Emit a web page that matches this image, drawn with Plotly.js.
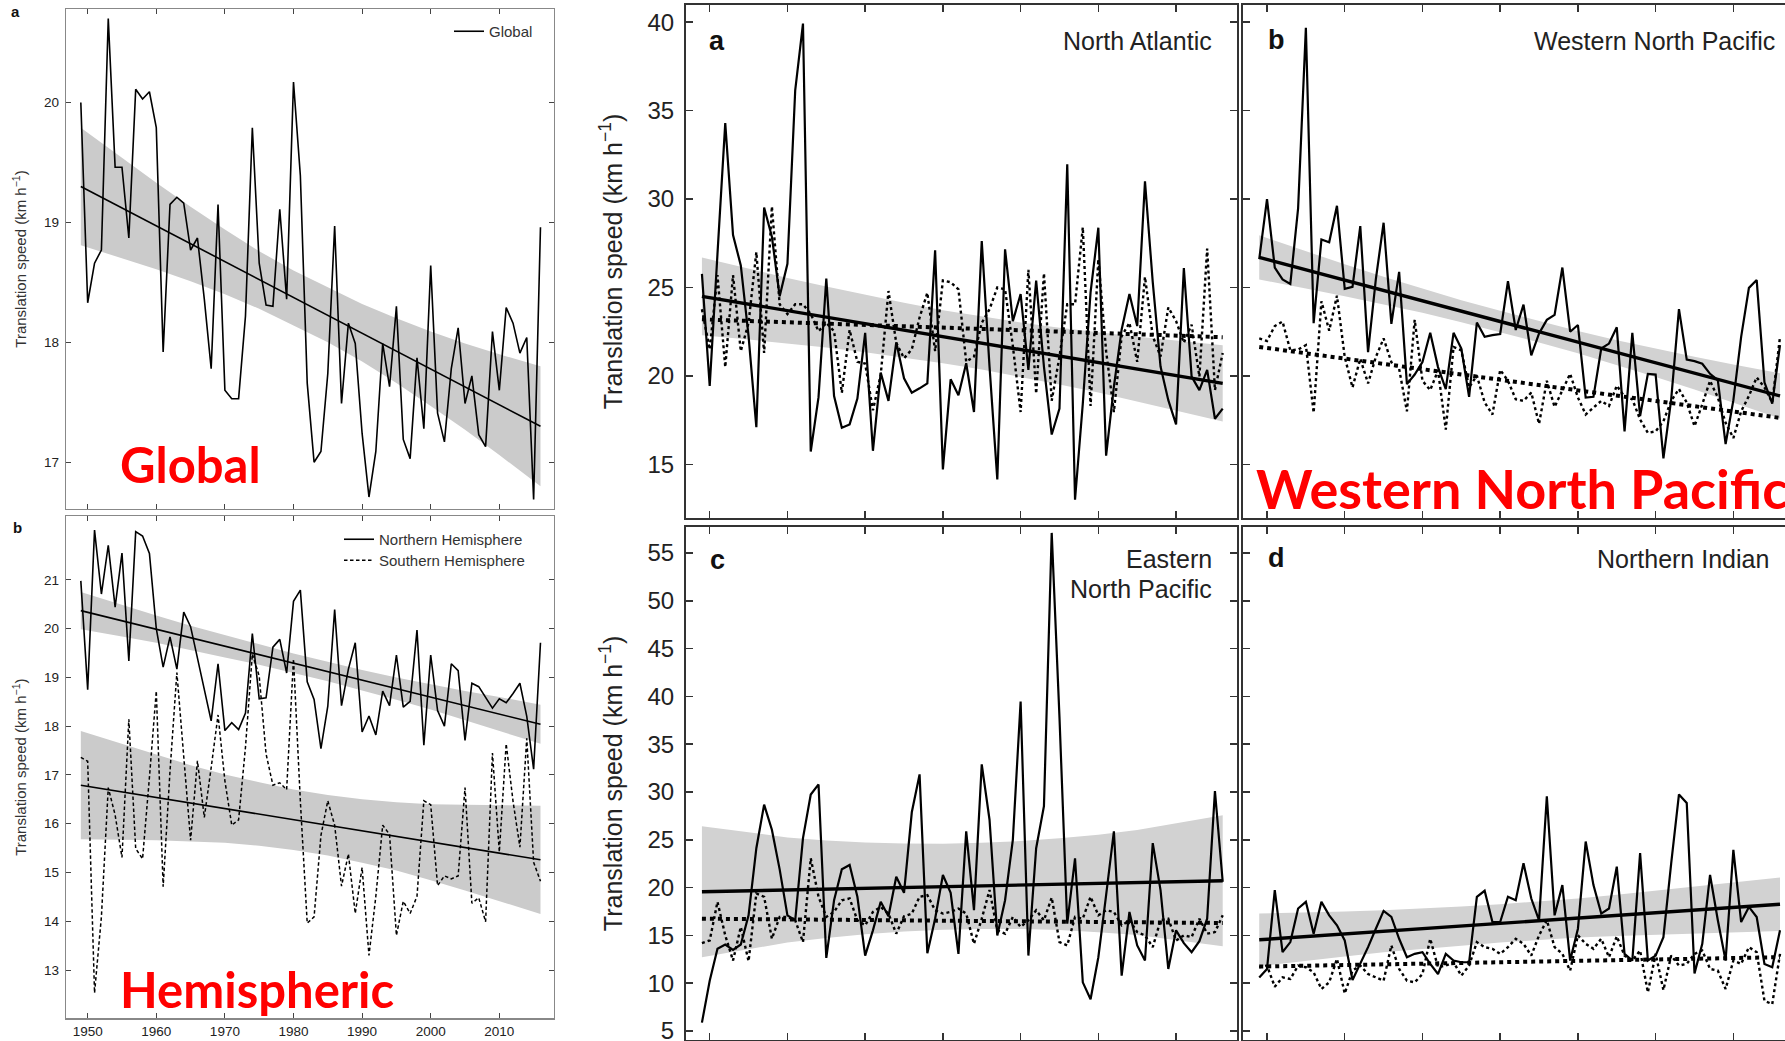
<!DOCTYPE html>
<html><head><meta charset="utf-8">
<script src="https://cdn.plot.ly/plotly-3.0.1.min.js"></script>
<style>html,body{margin:0;padding:0;overflow:hidden;background:#fff;} #chart{width:1800px;height:1041px;}</style>
</head><body><div id="chart"></div>
<script>
// ---------------- DATA ----------------
const years = [1949,1950,1951,1952,1953,1954,1955,1956,1957,1958,
  1959,1960,1961,1962,1963,1964,1965,1966,1967,1968,
  1969,1970,1971,1972,1973,1974,1975,1976,1977,1978,
  1979,1980,1981,1982,1983,1984,1985,1986,1987,1988,
  1989,1990,1991,1992,1993,1994,1995,1996,1997,1998,
  1999,2000,2001,2002,2003,2004,2005,2006,2007,2008,
  2009,2010,2011,2012,2013,2014,2015,2016];
const xTicks = [1950,1960,1970,1980,1990,2000,2010];
const trendYears = [1949, 2016];
const bandYears = [1949,1955,1960,1965,1970,1975,1980,1985,1990,1995,2000,2005,2010,2016];

// Global
const globalSpeed = [20.00,18.33,18.66,18.77,20.70,19.46,19.46,18.87,20.11,20.03,
  20.09,19.79,17.92,19.15,19.21,19.16,18.77,18.87,18.36,17.78,
  19.15,17.60,17.53,17.53,18.22,19.79,18.66,18.31,18.30,19.11,
  18.36,20.17,19.39,17.66,17.00,17.09,17.74,18.97,17.49,18.16,
  17.99,17.24,16.71,17.09,17.99,17.63,18.30,17.19,17.03,17.87,
  17.28,18.64,17.41,17.17,17.78,18.12,17.49,17.72,17.23,17.13,
  18.09,17.60,18.29,18.16,17.91,18.04,16.69,18.96];
const globalTrend = [19.30, 17.30];
const globalUpper = [19.79,19.54,19.33,19.13,18.94,18.76,18.60,18.46,18.32,18.20,18.09,17.99,17.90,17.80];
const globalLower = [18.81,18.70,18.61,18.51,18.40,18.28,18.14,18.00,17.84,17.66,17.47,17.27,17.06,16.80];

// Hemispheric
const nhSpeed = [20.98,18.75,22.02,20.71,21.71,20.44,21.55,19.34,21.99,21.90,
  21.54,20.00,19.21,19.83,19.17,20.34,20.04,19.38,18.75,18.11,
  19.28,17.91,18.07,17.93,18.27,19.90,18.56,18.58,19.62,19.78,
  19.09,20.56,20.79,18.91,18.55,17.54,18.41,20.39,18.42,19.17,
  19.71,17.88,18.21,17.82,18.72,18.42,19.46,18.39,18.51,19.97,
  17.61,19.46,18.32,18.00,19.28,19.14,17.71,18.88,18.81,18.58,
  18.37,18.56,18.48,18.67,18.88,18.20,17.12,19.71];
const shSpeed = [17.36,17.28,12.53,14.09,16.74,16.18,15.31,18.14,15.49,15.28,
  16.95,18.72,14.71,17.08,19.10,17.33,15.66,17.29,16.13,17.15,
  18.23,16.88,15.97,16.08,17.57,19.48,19.03,17.43,16.79,16.84,
  16.70,19.38,16.46,13.96,14.09,15.76,16.47,15.97,14.72,15.38,
  14.16,15.10,13.30,14.51,15.97,15.78,13.71,14.41,14.16,14.51,
  16.47,16.39,14.73,14.93,14.87,14.93,16.74,14.37,14.48,13.99,
  17.45,15.42,17.64,16.46,15.52,17.75,15.21,14.82];
const nhTrend = [20.37, 18.04];
const shTrend = [16.79, 15.26];
const nhUpper = [20.75,20.48,20.27,20.06,19.87,19.68,19.49,19.32,19.15,19.00,18.86,18.72,18.60,18.44];
const nhLower = [19.99,19.84,19.71,19.56,19.41,19.26,19.09,18.92,18.73,18.54,18.34,18.12,17.90,17.64];
const shUpper = [17.90,17.63,17.42,17.20,17.01,16.85,16.70,16.59,16.50,16.44,16.40,16.39,16.38,16.37];
const shLower = [15.68,15.67,15.66,15.64,15.61,15.55,15.46,15.35,15.20,15.04,14.84,14.63,14.42,14.15];

// (a) North Atlantic
const naSolid = [25.77,19.43,26.90,34.29,27.96,26.25,22.25,17.10,29.52,27.87,
  24.50,26.34,36.15,39.92,15.73,18.80,25.50,18.86,17.07,17.26,
  18.72,22.44,15.77,20.19,18.59,21.90,19.87,19.05,19.30,19.58,
  27.10,14.72,19.81,18.91,20.72,17.96,27.62,20.53,14.15,27.16,
  23.10,24.63,20.34,25.39,20.53,16.69,18.15,31.96,13.00,18.44,
  24.72,28.38,15.49,19.39,22.63,24.63,22.82,31.00,25.30,20.53,
  18.63,17.26,26.10,19.96,19.20,20.34,17.58,18.15];
const naDotted = [23.77,21.50,25.70,20.50,25.70,21.40,23.00,27.00,21.30,29.58,
  24.05,23.50,24.05,24.05,23.50,22.53,23.00,22.53,19.05,22.60,
  20.80,20.70,18.06,20.06,24.80,21.87,21.00,21.50,23.30,24.70,
  21.40,25.40,25.30,24.90,20.80,21.10,23.00,23.77,25.00,24.90,
  21.70,17.96,26.00,19.00,25.80,18.60,21.10,24.05,24.05,28.40,
  18.30,26.60,21.40,17.96,22.25,23.00,20.80,25.60,22.25,21.10,
  23.87,23.10,21.87,22.90,19.96,27.20,19.20,21.30];
const naTrendSolid = [24.50, 19.58];
const naTrendDotted = [23.20, 22.19];
const naUpper = [26.70,26.06,25.54,25.05,24.58,24.14,23.72,23.36,23.02,22.72,22.46,22.22,22.00,21.73];
const naLower = [22.30,22.06,21.84,21.61,21.34,21.04,20.72,20.36,19.96,19.52,19.06,18.56,18.04,17.43];

// (b) Western North Pacific
const wnpSolid = [26.60,30.00,26.13,25.46,25.20,29.47,39.68,22.98,27.71,27.56,
  29.62,24.92,25.04,28.47,21.35,25.46,28.66,22.94,25.88,19.54,
  20.08,20.78,22.44,20.50,19.26,22.44,21.55,18.82,23.02,22.21,
  22.31,22.37,25.36,22.60,24.03,21.16,22.40,23.17,23.45,26.13,
  22.50,22.88,18.78,18.82,21.55,21.83,22.75,16.87,22.44,17.73,
  20.12,20.08,15.34,18.68,23.78,20.92,20.84,20.69,20.12,19.77,
  16.15,18.63,22.21,24.98,25.42,19.64,18.44,21.74];
const wnpDotted = [22.12,21.98,22.82,23.07,21.45,21.49,21.74,17.92,24.22,22.56,
  24.54,21.07,19.35,20.97,19.58,21.07,22.12,20.78,20.40,18.00,
  23.17,19.73,19.20,20.31,16.97,21.64,21.45,19.35,20.02,18.50,
  17.82,20.34,19.73,18.68,18.59,19.06,17.29,19.73,18.25,19.16,
  20.12,18.78,17.82,18.21,18.59,18.30,19.45,18.82,18.68,17.54,
  16.78,16.87,17.44,18.59,19.26,18.50,17.16,18.40,19.73,18.78,
  17.35,16.49,18.00,18.87,19.92,19.35,18.50,22.21];
const wnpTrendSolid = [26.70, 18.87];
const wnpTrendDotted = [21.64, 17.63];
const wnpUpper = [27.95,27.05,26.31,25.61,24.93,24.28,23.68,23.09,22.54,22.02,21.54,21.09,20.65,20.15];
const wnpLower = [25.45,24.95,24.51,24.05,23.57,23.04,22.48,21.89,21.28,20.62,19.94,19.23,18.49,17.59];

// (c) Eastern North Pacific
const enpSolid = [5.88,10.26,13.60,14.05,13.49,14.05,17.10,24.12,28.68,26.05,
  21.91,17.10,16.58,25.18,29.74,30.79,12.65,18.68,21.91,22.37,
  19.04,12.89,15.53,18.51,17.00,21.14,19.46,27.88,31.84,13.14,
  16.75,21.32,19.46,13.07,25.88,17.63,32.89,27.10,15.00,18.68,
  25.00,39.46,12.89,24.12,28.51,57.10,37.81,16.23,23.07,10.09,
  8.33,12.72,19.21,25.88,10.79,17.46,13.95,12.37,24.65,19.74,
  11.49,15.53,14.19,13.25,14.40,16.75,30.09,20.61];
const enpDotted = [14.19,14.47,18.51,15.00,12.37,15.88,12.30,19.39,19.04,14.65,
  16.93,16.93,16.58,14.30,23.07,19.04,16.93,17.46,18.68,18.86,
  16.58,16.05,17.46,17.98,17.28,15.18,17.00,17.28,19.04,19.21,
  17.63,17.28,17.46,17.81,17.28,14.12,16.75,19.74,15.53,15.18,
  16.93,15.88,16.58,17.63,16.58,18.96,14.30,13.95,16.93,16.75,
  19.04,17.10,17.63,17.46,16.05,16.58,15.35,15.00,13.77,16.58,
  16.75,14.47,15.00,14.82,16.75,15.18,15.35,17.10];
const enpTrendSolid = [19.56, 20.72];
const enpTrendDotted = [16.75, 16.30];
const enpUpper = [26.41,25.76,25.25,24.94,24.72,24.61,24.60,24.68,24.87,25.16,25.54,26.03,26.72,27.57];
const enpLower = [12.71,13.56,14.25,14.74,15.12,15.41,15.60,15.68,15.67,15.56,15.34,15.03,14.52,13.87];

// (d) Northern Indian
const niSolid = [10.61,11.49,19.74,13.25,14.30,17.81,18.51,15.18,18.51,17.10,
  16.05,14.47,10.33,12.02,13.77,15.70,17.56,16.93,14.65,12.72,
  13.07,13.25,12.02,10.96,13.07,12.37,12.19,12.19,19.04,19.67,
  16.40,16.40,19.04,18.68,22.54,18.86,16.58,29.56,17.10,20.26,
  12.37,15.70,24.82,20.26,17.28,17.81,22.19,13.07,12.37,23.60,
  12.37,12.89,14.82,22.54,29.74,28.86,11.03,14.12,21.32,16.58,
  12.37,23.95,16.40,17.98,16.93,12.02,11.67,15.53];
const niDotted = [11.67,11.84,9.63,10.61,10.44,11.84,11.67,11.14,9.39,10.09,
  12.54,8.93,11.32,11.84,10.96,10.61,10.26,13.95,11.49,10.26,
  10.09,10.96,14.65,11.67,11.84,12.19,10.79,11.84,14.30,13.77,
  13.60,13.07,13.77,14.65,14.12,12.89,15.00,16.58,13.77,13.07,
  11.32,15.00,14.12,13.60,14.65,12.72,14.90,12.89,12.37,13.42,
  9.04,13.07,9.28,12.89,11.84,12.02,13.07,13.42,11.49,11.32,
  9.39,12.37,12.02,13.77,13.25,8.16,7.81,13.07];
const niTrendSolid = [14.54, 18.26];
const niTrendDotted = [11.74, 12.72];
const niUpper = [17.29,17.37,17.50,17.63,17.81,18.03,18.26,18.54,18.87,19.24,19.67,20.10,20.53,21.06];
const niLower = [11.79,12.37,12.80,13.23,13.61,13.93,14.26,14.54,14.77,14.94,15.07,15.20,15.33,15.46];

const leftTicksGlobal = [17,18,19,20];
const leftTicksHemi = [13,14,15,16,17,18,19,20,21];
const ticksA = [15,20,25,30,35,40];
const ticksC = [5,10,15,20,25,30,35,40,45,50,55];
const yTitle = 'Translation speed (km h<sup>−1</sup>)';

// ---------------- LAYOUT HELPERS ----------------
const W = 1800, H = 1041;
const dx = (l, r) => [l / W, r / W];
const dy = (t, b) => [1 - b / H, 1 - t / H];
const px = v => v / W;
const py = v => 1 - v / H;

const FONT = 'Liberation Sans, Arial, Helvetica, sans-serif';
const BAND_L = '#cbcbcb';
const BAND_R = '#d2d2d2';

function bandTrace(xa, ya, up, lo, color) {
  return {x: bandYears.concat(bandYears.slice().reverse()),
          y: up.concat(lo.slice().reverse()),
          xaxis: xa, yaxis: ya, type: 'scatter', mode: 'lines', fill: 'toself',
          fillcolor: color, line: {width: 0, color: color}, showlegend: false, hoverinfo: 'skip'};
}
function lineTrace(xa, ya, xs, ys, width, dash, name, legend) {
  const t = {x: xs, y: ys, xaxis: xa, yaxis: ya, type: 'scatter', mode: 'lines',
             line: {color: '#000', width: width, dash: dash || 'solid'}, showlegend: false, name: name || ''};
  if (legend) { t.showlegend = true; t.legend = legend; }
  return t;
}

const data = [
  // Global
  bandTrace('x', 'y', globalUpper, globalLower, BAND_L),
  lineTrace('x', 'y', trendYears, globalTrend, 1.6),
  lineTrace('x', 'y', years, globalSpeed, 1.6, 'solid', 'Global', 'legend'),
  // Hemispheric
  bandTrace('x2', 'y2', nhUpper, nhLower, BAND_L),
  bandTrace('x2', 'y2', shUpper, shLower, BAND_L),
  lineTrace('x2', 'y2', trendYears, nhTrend, 1.6),
  lineTrace('x2', 'y2', trendYears, shTrend, 1.6),
  lineTrace('x2', 'y2', years, nhSpeed, 1.6, 'solid', 'Northern Hemisphere', 'legend2'),
  lineTrace('x2', 'y2', years, shSpeed, 1.5, '3.5px,2.5px', 'Southern Hemisphere', 'legend3'),
  // a
  bandTrace('x3', 'y3', naUpper, naLower, BAND_R),
  lineTrace('x3', 'y3', years, naDotted, 2.4, 'dot'),
  lineTrace('x3', 'y3', years, naSolid, 2.2),
  lineTrace('x3', 'y3', trendYears, naTrendDotted, 4, 'dot'),
  lineTrace('x3', 'y3', trendYears, naTrendSolid, 3.4),
  // b
  bandTrace('x4', 'y4', wnpUpper, wnpLower, BAND_R),
  lineTrace('x4', 'y4', years, wnpDotted, 2.4, 'dot'),
  lineTrace('x4', 'y4', years, wnpSolid, 2.2),
  lineTrace('x4', 'y4', trendYears, wnpTrendDotted, 4, 'dot'),
  lineTrace('x4', 'y4', trendYears, wnpTrendSolid, 3.4),
  // c
  bandTrace('x5', 'y5', enpUpper, enpLower, BAND_R),
  lineTrace('x5', 'y5', years, enpDotted, 2.4, 'dot'),
  lineTrace('x5', 'y5', years, enpSolid, 2.2),
  lineTrace('x5', 'y5', trendYears, enpTrendDotted, 4, 'dot'),
  lineTrace('x5', 'y5', trendYears, enpTrendSolid, 3.4),
  // d
  bandTrace('x6', 'y6', niUpper, niLower, BAND_R),
  lineTrace('x6', 'y6', years, niDotted, 2.4, 'dot'),
  lineTrace('x6', 'y6', years, niSolid, 2.2),
  lineTrace('x6', 'y6', trendYears, niTrendDotted, 4, 'dot'),
  lineTrace('x6', 'y6', trendYears, niTrendSolid, 3.4)
];

function leftX(anchor, labels) {
  return {domain: dx(66, 554), range: [1946.84, 2017.97], anchor: anchor, tickvals: xTicks,
          ticks: 'inside', ticklen: 5, tickwidth: 1, tickcolor: '#444', showline: true, linecolor: '#888',
          linewidth: 1.2, mirror: 'ticks', showgrid: false, zeroline: false, showticklabels: labels,
          tickfont: {family: FONT, size: 13.5, color: '#222'}};
}
function leftY(anchor, domain, range, tickvals) {
  return {domain: domain, range: range, anchor: anchor, tickvals: tickvals,
          ticks: 'inside', ticklen: 5, tickwidth: 1, tickcolor: '#444', showline: true, linecolor: '#888',
          linewidth: 1.2, mirror: 'ticks', showgrid: false, zeroline: false, ticklabelstandoff: 3,
          tickfont: {family: FONT, size: 13.5, color: '#222'},
          title: {text: yTitle, standoff: 13, font: {family: FONT, size: 15, color: '#333'}}};
}
function rightX(anchor, domain) {
  return {domain: domain, range: [1946.95, 2017.8], anchor: anchor, tickvals: xTicks,
          ticks: 'inside', ticklen: 7, tickwidth: 1.5, tickcolor: '#333', showline: true, linecolor: '#333',
          linewidth: 2, mirror: 'ticks', showgrid: false, zeroline: false, showticklabels: false};
}
function rightY(anchor, domain, range, tickvals, labels) {
  const a = {domain: domain, range: range, anchor: anchor, tickvals: tickvals,
          ticks: 'inside', ticklen: 7, tickwidth: 1.5, tickcolor: '#333', showline: true, linecolor: '#333',
          linewidth: 2, mirror: 'ticks', showgrid: false, zeroline: false, showticklabels: labels,
          ticklabeloverflow: 'allow',
          ticklabelstandoff: 5, tickfont: {family: FONT, size: 24, color: '#222'}};
  if (labels) a.title = {text: yTitle, standoff: 18, font: {family: FONT, size: 25, color: '#222'}};
  return a;
}

const topY = dy(5, 518), botY = dy(526.7, 1040);
const colA = dx(686, 1236.7), colB = dx(1243.3, 1794);

function ann(text, x, y, opts) {
  return Object.assign({text: text, x: px(x), y: py(y), xref: 'paper', yref: 'paper', showarrow: false,
    xanchor: 'left', yanchor: 'middle', font: {family: FONT, size: 25, color: '#222'}}, opts || {});
}
const bold = (s) => ({family: FONT, size: s, color: '#111', weight: 'bold'});
const red = {family: 'Lato, "Noto Sans", sans-serif', size: 49, color: '#ff0000', weight: 'bold'};
const legendStyle = (x, y) => ({x: px(x), y: py(y), xanchor: 'left', yanchor: 'top', bgcolor: 'rgba(0,0,0,0)',
  borderwidth: 0, font: {family: FONT, size: 15, color: '#333'}, itemwidth: 30, tracegroupgap: 0});

const layout = {
  width: W, height: H, margin: {l: 0, r: 0, t: 0, b: 0}, paper_bgcolor: '#fff', plot_bgcolor: '#fff',
  showlegend: true, hovermode: false,
  xaxis: leftX('y', false),
  yaxis: leftY('x', dy(9, 509), [16.61, 20.78], leftTicksGlobal),
  xaxis2: leftX('y2', true),
  yaxis2: leftY('x2', dy(516, 1018.3), [12.01, 22.31], leftTicksHemi),
  xaxis3: rightX('y3', colA),
  yaxis3: rightY('x3', topY, [11.97, 40.97], ticksA, true),
  xaxis4: rightX('y4', colB),
  yaxis4: rightY('x4', topY, [11.97, 40.97], ticksA, false),
  xaxis5: rightX('y5', colA),
  yaxis5: rightY('x5', botY, [4.06, 57.75], ticksC, true),
  xaxis6: rightX('y6', colB),
  yaxis6: rightY('x6', botY, [4.06, 57.75], ticksC, false),
  legend: legendStyle(449, 15),
  legend2: legendStyle(339, 523),
  legend3: legendStyle(339, 544),
  annotations: [
    ann('a', 15, 12, {xanchor: 'center', font: bold(15)}),
    ann('b', 17, 527, {xanchor: 'center', font: bold(15)}),
    ann('a', 717, 41, {xanchor: 'center', font: bold(27)}),
    ann('b', 1276, 40, {xanchor: 'center', font: bold(27)}),
    ann('c', 717, 560, {xanchor: 'center', font: bold(27)}),
    ann('d', 1276, 558, {xanchor: 'center', font: bold(27)}),
    ann('North Atlantic', 1214, 41, {xanchor: 'right'}),
    ann('Western North Pacific', 1777, 41, {xanchor: 'right'}),
    ann('Eastern', 1214, 559, {xanchor: 'right'}),
    ann('North Pacific', 1214, 589, {xanchor: 'right'}),
    ann('Northern Indian', 1771, 559, {xanchor: 'right'}),
    ann('Global', 118, 464, {font: red}),
    ann('Hemispheric', 118, 989, {font: red}),
    ann('Western North Pacific', 1254, 488, {font: Object.assign({}, red, {size: 54})})
  ]
};

Plotly.newPlot('chart', data, layout, {staticPlot: true, displayModeBar: false});
</script>
</body></html>
